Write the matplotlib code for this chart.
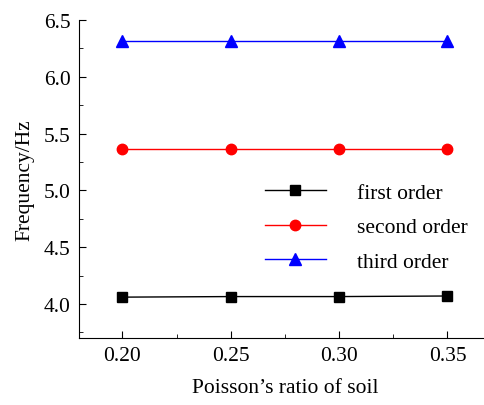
import matplotlib
matplotlib.use('Agg')
import matplotlib.pyplot as plt

poisson = [0.20, 0.25, 0.30, 0.35]
first_order = [4.06, 4.065, 4.065, 4.07]
second_order = [5.365, 5.365, 5.365, 5.365]
third_order = [6.315, 6.315, 6.315, 6.315]

plt.rcParams['font.family'] = ['Liberation Serif', 'DejaVu Serif']
plt.rcParams['font.size'] = 15.5

fig = plt.figure(figsize=(4.85, 4.06), dpi=100)
ax = fig.add_axes([0.163, 0.165, 0.849, 0.783])

ax.plot(poisson, first_order, color='black', lw=1, marker='s', ms=7, label='first order')
ax.plot(poisson, second_order, color='red', lw=1, marker='o', ms=7.5, label='second order')
ax.plot(poisson, third_order, color='blue', lw=1, marker='^', ms=8.5, label='third order')

ax.set_xlim(0.18, 0.37)
ax.set_ylim(3.7, 6.5)
ax.set_xticks([0.20, 0.25, 0.30, 0.35])
ax.set_xticks([0.225, 0.275, 0.325], minor=True)
ax.set_yticks([4.0, 4.5, 5.0, 5.5, 6.0, 6.5])
ax.set_yticks([3.75, 4.25, 4.75, 5.25, 5.75, 6.25], minor=True)
ax.xaxis.set_major_formatter(matplotlib.ticker.FormatStrFormatter('%.2f'))
ax.yaxis.set_major_formatter(matplotlib.ticker.FormatStrFormatter('%.1f'))
ax.tick_params(which='both', direction='in', pad=6)
ax.tick_params(which='major', length=5)
ax.tick_params(which='minor', length=3)
ax.spines['top'].set_visible(False)
ax.spines['right'].set_visible(False)

ax.set_xlabel('Poisson\u2019s ratio of soil', labelpad=9)
ax.set_ylabel('Frequency/Hz', labelpad=7)

ax.legend(loc='upper left', bbox_to_anchor=(0.546, 0.548), bbox_transform=fig.transFigure,
          frameon=False, borderpad=0, borderaxespad=0, handlelength=2.85, handletextpad=1.45,
          labelspacing=0.68)

fig.savefig('out.png', dpi=100)
